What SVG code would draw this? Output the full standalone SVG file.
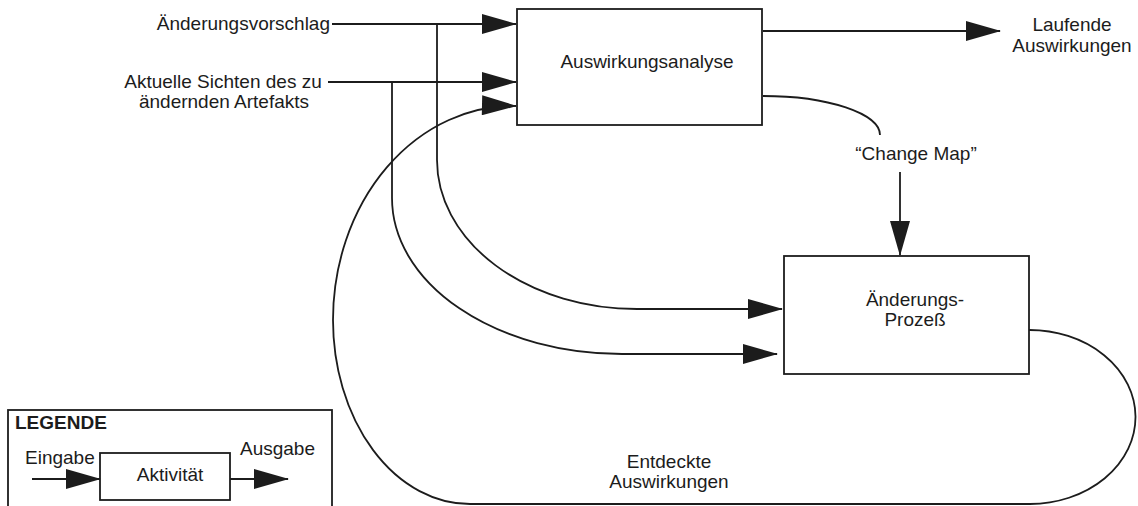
<svg xmlns="http://www.w3.org/2000/svg" width="1138" height="506" viewBox="0 0 1138 506">
  <defs>
    <style>
      .box { fill: none; stroke: #1c1c1c; stroke-width: 1.8; }
      .wire { fill: none; stroke: #1c1c1c; stroke-width: 1.8; }
      .lbl { font-family: "Liberation Sans", Arial, sans-serif; font-size: 19px; fill: #1c1c1c; }
      .mid { text-anchor: middle; }
      .end { text-anchor: end; }
      .bold { font-weight: bold; }
    </style>
    <!-- slender filled arrowhead, tip at the path end -->
    <marker id="head" markerUnits="userSpaceOnUse" markerWidth="36" markerHeight="20" viewBox="0 0 35 20" refX="34" refY="10" orient="auto">
      <path d="M0,0 L35,10 L0,20 Z" fill="#1c1c1c"/>
    </marker>
  </defs>

  <rect x="0" y="0" width="1138" height="506" fill="#ffffff"/>

  <!-- connectors -->
  <g id="connectors">
    <!-- inputs to the analysis -->
    <path class="wire" d="M332,24 H516" marker-end="url(#head)"/>
    <path class="wire" d="M328,82 H516" marker-end="url(#head)"/>
    <!-- branches of the inputs down to the change process -->
    <path class="wire" d="M437,24 V160 A200,149 0 0 0 637,309 H782" marker-end="url(#head)"/>
    <path class="wire" d="M392,82 V198 A230,156 0 0 0 622,354 H777" marker-end="url(#head)"/>
    <!-- ongoing impacts -->
    <path class="wire" d="M763,31 H1000" marker-end="url(#head)"/>
    <!-- change map -->
    <path class="wire" d="M763,96 A117,39 0 0 1 880,135"/>
    <path class="wire" d="M900,172 V255" marker-end="url(#head)"/>
    <!-- discovered impacts fed back into the analysis -->
    <path class="wire" d="M1029,330 A106,87 0 0 1 1030,504 H470 A137,184 0 0 1 333,320 A180,214 0 0 1 516,106" marker-end="url(#head)"/>
  </g>

  <!-- free labels -->
  <g id="labels">
    <text class="lbl end" x="330" y="30">Änderungsvorschlag</text>
    <text class="lbl mid" x="223" y="88">Aktuelle Sichten des zu</text>
    <text class="lbl mid" x="224" y="108">ändernden Artefakts</text>
    <text class="lbl mid" x="1072" y="31">Laufende</text>
    <text class="lbl mid" x="1072" y="52">Auswirkungen</text>
    <text class="lbl mid" x="916" y="160">“Change Map”</text>
    <text class="lbl mid" x="669" y="468">Entdeckte</text>
    <text class="lbl mid" x="669" y="488">Auswirkungen</text>
  </g>

  <g id="node-auswirkungsanalyse">
    <rect class="box" x="517" y="9" width="245" height="116"/>
    <text class="lbl mid" x="647" y="68">Auswirkungsanalyse</text>
  </g>

  <g id="node-aenderungsprozess">
    <rect class="box" x="784" y="256" width="245" height="118"/>
    <text class="lbl mid" x="915" y="306">Änderungs-</text>
    <text class="lbl mid" x="915" y="326">Prozeß</text>
  </g>

  <g id="legend">
    <rect class="box" x="8" y="410" width="324" height="110"/>
    <text class="lbl bold" x="15" y="429">LEGENDE</text>
    <text class="lbl" x="25" y="464">Eingabe</text>
    <text class="lbl" x="240" y="455">Ausgabe</text>
    <rect class="box" x="100" y="453" width="130" height="47"/>
    <text class="lbl mid" x="170" y="481">Aktivität</text>
    <path class="wire" d="M32,479 H100" marker-end="url(#head)"/>
    <path class="wire" d="M230,479 H288" marker-end="url(#head)"/>
  </g>
</svg>
